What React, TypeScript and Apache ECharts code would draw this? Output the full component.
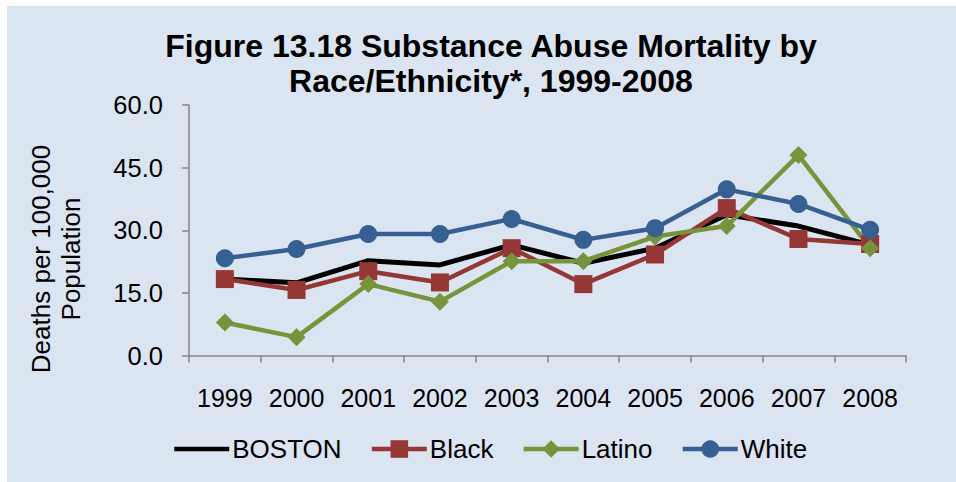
import React, { useEffect, useRef } from "react";
import * as echarts from "echarts";

const years = ["1999", "2000", "2001", "2002", "2003", "2004", "2005", "2006", "2007", "2008"];
const boston = [18.3, 17.4, 22.7, 21.7, 26.5, 22.1, 25.7, 33.7, 31.0, 26.5];
const black = [18.3, 15.7, 20.2, 17.5, 25.7, 17.1, 24.2, 35.3, 27.9, 26.7];
const latino = [7.9, 4.4, 17.1, 12.9, 22.6, 22.6, 28.5, 31.0, 48.0, 25.7];
const white = [23.3, 25.5, 29.1, 29.1, 32.7, 27.7, 30.5, 39.8, 36.3, 30.1];

const FONT = "Liberation Sans, Arial, sans-serif";

export default function App() {
  const ref = useRef<HTMLDivElement>(null);
  useEffect(() => {
    if (!ref.current) return;
    const chart = echarts.init(ref.current, undefined, { renderer: "svg" });
    const mk = (name: string, data: number[], color: string, symbol: string, size: number, width: number) => ({
      name,
      type: "line",
      data,
      symbol,
      symbolSize: size,
      showSymbol: symbol !== "none",
      itemStyle: { color },
      lineStyle: { color, width },
      emphasis: { disabled: true },
    });
    chart.setOption({
      animation: false,
      backgroundColor: "#ffffff",
      textStyle: { fontFamily: FONT },
      title: {
        text: "Figure 13.18 Substance Abuse Mortality by\nRace/Ethnicity*, 1999-2008",
        left: 486,
        top: 23,
        textAlign: "center",
        textStyle: { fontFamily: FONT, fontSize: 32, lineHeight: 35, fontWeight: "bold", color: "#000" },
      },
      graphic: [
        {
          type: "rect",
          z: -10,
          silent: true,
          shape: { x: 7, y: 6, width: 956, height: 482 },
          style: { fill: "#DBE5F1" },
        },
        {
          type: "text",
          x: 56,
          y: 259,
          rotation: Math.PI / 2,
          style: {
            text: "Deaths per 100,000\nPopulation",
            fontFamily: FONT,
            fontSize: 26,
            lineHeight: 30,
            fill: "#000",
            align: "center",
            verticalAlign: "middle",
          },
        },
      ],
      legend: {
        left: 172,
        top: 436,
        padding: 0,
        itemWidth: 55,
        itemHeight: 22,
        itemGap: 28,
        lineStyle: { width: 4.5 },
        textStyle: { fontFamily: FONT, fontSize: 26, color: "#000", padding: [0, 0, 0, -2] },
        data: [
          { name: "BOSTON", itemStyle: { opacity: 0 } },
          "Black",
          "Latino",
          "White",
        ],
      },
      grid: { left: 189, right: 50, top: 105, bottom: 126.5, containLabel: false },
      xAxis: {
        type: "category",
        data: years,
        boundaryGap: true,
        axisLine: { lineStyle: { color: "#868686", width: 1.5 } },
        axisTick: { show: true, length: 7, alignWithLabel: false, lineStyle: { color: "#868686", width: 1.5 } },
        axisLabel: { color: "#000", fontSize: 25, fontFamily: FONT, margin: 30, interval: 0 },
      },
      yAxis: {
        type: "value",
        min: 0,
        max: 60,
        interval: 15,
        axisLine: { show: true, lineStyle: { color: "#868686", width: 1.5 } },
        axisTick: { show: true, length: 7, lineStyle: { color: "#868686", width: 1.5 } },
        splitLine: { show: false },
        axisLabel: { color: "#000", fontSize: 25.5, fontFamily: FONT, margin: 26, formatter: (v: number) => v.toFixed(1) },
      },
      series: [
        mk("BOSTON", boston, "#000000", "none", 0, 5),
        mk("Black", black, "#953735", "rect", 18, 4.5),
        mk("Latino", latino, "#77933C", "diamond", 18, 4.5),
        mk("White", white, "#366092", "circle", 18, 4.5),
      ],
    });
    return () => chart.dispose();
  }, []);
  return <div ref={ref} style={{ position: "fixed", left: 0, top: 0, width: 956, height: 482 }} />;
}
